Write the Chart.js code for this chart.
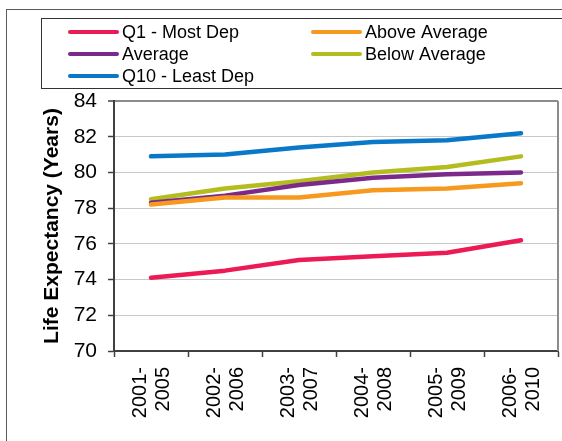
<!DOCTYPE html>
<html>
<head>
<meta charset="utf-8">
<title>Life Expectancy</title>
<script src="https://cdn.jsdelivr.net/npm/chart.js@4.4.1/dist/chart.umd.min.js"></script>
<style>
    html, body { margin: 0; padding: 0; background: #ffffff; }
    canvas { display: block; }
</style>
</head>
<body>
<canvas id="life-chart" width="562" height="441"></canvas>
<script>
// Periods (two-line tick labels)
const periods = [
    ['2001-', '2005'],
    ['2002-', '2006'],
    ['2003-', '2007'],
    ['2004-', '2008'],
    ['2005-', '2009'],
    ['2006-', '2010']
];

const seriesNames = ['Q1 - Most Dep', 'Above Average', 'Average', 'Below Average', 'Q10 - Least Dep'];
const seriesColors = ['#ec1a55', '#f7991f', '#7b2a8c', '#b4bd1f', '#0a78c8'];

// Life expectancy values per series
const q1MostDep = [74.1, 74.5, 75.1, 75.3, 75.5, 76.2];
const aboveAverage = [78.2, 78.6, 78.6, 79.0, 79.1, 79.4];
const average = [78.3, 78.7, 79.3, 79.7, 79.9, 80.0];
const belowAverage = [78.5, 79.1, 79.5, 80.0, 80.3, 80.9];
const q10LeastDep = [80.9, 81.0, 81.4, 81.7, 81.8, 82.2];

const yTicks = [70, 72, 74, 76, 78, 80, 82, 84];

const FONT = 'Liberation Sans, Arial, sans-serif';
const AXIS_DARK = '#404040';

// Frame, legend box and plot border
const framePlugin = {
    id: 'framePlugin',
    beforeDatasetsDraw(chart) {
        const { ctx, chartArea } = chart;
        ctx.save();
        ctx.strokeStyle = '#8c8c8c';
        ctx.lineWidth = 2;
        ctx.beginPath();
        ctx.moveTo(chartArea.right, chartArea.top);
        ctx.lineTo(chartArea.right, chartArea.bottom);
        ctx.stroke();
        ctx.restore();
    },
    afterDraw(chart) {
        const ctx = chart.ctx;
        ctx.save();

        // outer frame
        ctx.strokeStyle = '#5a5a5a';
        ctx.lineWidth = 1;
        ctx.strokeRect(6.5, 9.5, 700, 600);

        // legend box
        ctx.strokeStyle = '#333333';
        ctx.strokeRect(41.5, 18.5, 700, 70);

        // legend items, two columns row-major
        ctx.font = '18px ' + FONT;
        ctx.textBaseline = 'middle';
        ctx.fillStyle = '#000000';
        ctx.lineCap = 'round';
        ctx.lineWidth = 4;
        chart.data.datasets.forEach((ds, i) => {
            const col = i % 2;
            const row = Math.floor(i / 2);
            const x = col === 0 ? 70 : 313;
            const y = 32 + row * 22;
            ctx.strokeStyle = ds.borderColor;
            ctx.beginPath();
            ctx.moveTo(x, y);
            ctx.lineTo(x + 47, y);
            ctx.stroke();
            ctx.fillText(ds.label, x + 52, y + 1);
        });

        ctx.restore();
    }
};

const seriesData = [q1MostDep, aboveAverage, average, belowAverage, q10LeastDep];

const ctx = document.getElementById('life-chart');

new Chart(ctx, {
    type: 'line',
    data: {
        labels: periods,
        datasets: seriesData.map((values, i) => ({
            label: seriesNames[i],
            data: values,
            borderColor: seriesColors[i],
            backgroundColor: seriesColors[i],
            borderWidth: 4.5,
            borderCapStyle: 'round',
            borderJoinStyle: 'round',
            pointRadius: 0,
            tension: 0
        }))
    },
    options: {
        responsive: false,
        devicePixelRatio: 1,
        animation: false,
        layout: {
            padding: { top: 101, right: 4, left: 0, bottom: 0 }
        },
        plugins: {
            legend: { display: false },
            tooltip: { enabled: false },
            title: { display: false }
        },
        scales: {
            x: {
                type: 'category',
                offset: true,
                grid: {
                    offset: true,
                    drawOnChartArea: false,
                    drawTicks: true,
                    tickLength: 6,
                    tickColor: AXIS_DARK,
                    tickWidth: 1.5
                },
                border: { color: AXIS_DARK, width: 2 },
                ticks: {
                    autoSkip: false,
                    minRotation: 90,
                    maxRotation: 90,
                    padding: 10,
                    labelOffset: -11,
                    color: '#000000',
                    font: { family: FONT, size: 20, lineHeight: 1.15 }
                },
                afterFit: (scale) => {
                    scale.height = 90;
                    scale.paddingLeft = 0;
                    scale.paddingRight = 0;
                }
            },
            y: {
                min: 70,
                max: 84,
                afterBuildTicks: (scale) => {
                    scale.ticks = yTicks.map(v => ({ value: v }));
                },
                grid: {
                    color: (c) => c.tick && c.tick.value === 84 ? '#8c8c8c' : '#c8c8c8',
                    lineWidth: (c) => c.tick && c.tick.value === 84 ? 2 : 1,
                    drawTicks: true,
                    tickLength: 6,
                    tickColor: AXIS_DARK,
                    tickWidth: 1.5
                },
                border: { color: AXIS_DARK, width: 2 },
                ticks: {
                    padding: 11,
                    color: '#000000',
                    font: { family: FONT, size: 21 }
                },
                title: {
                    display: true,
                    text: 'Life Expectancy (Years)',
                    color: '#000000',
                    font: { family: FONT, size: 21, weight: 'bold', lineHeight: 1.2 },
                    padding: { top: 40, bottom: 0 }
                },
                afterFit: (scale) => {
                    scale.width = 114;
                    scale.paddingTop = 0;
                    scale.paddingBottom = 0;
                }
            }
        }
    },
    plugins: [framePlugin]
});
</script>
</body>
</html>
